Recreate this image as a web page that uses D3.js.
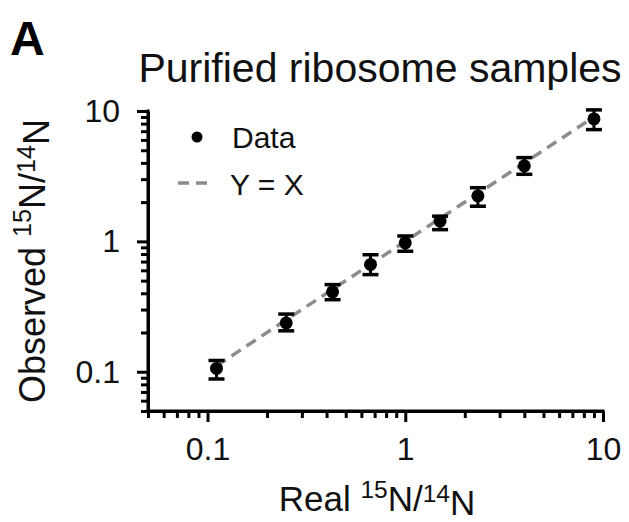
<!DOCTYPE html>
<html>
<head>
<meta charset="utf-8">
<script src="https://cdn.jsdelivr.net/npm/d3@7"></script>
<style>
  body { margin: 0; background: #fff; }
  svg { display: block; font-family: "Liberation Sans", Arial, Helvetica, sans-serif; }
</style>
</head>
<body>
<svg id="chart" width="629" height="522"></svg>
<script>
// data
var realRatio = [0.111, 0.25, 0.429, 0.667, 1, 1.5, 2.33, 4, 9];
var observed  = [0.106, 0.237, 0.41, 0.665, 0.975, 1.43, 2.23, 3.8, 8.7];
var errLow    = [0.088, 0.206, 0.357, 0.556, 0.84, 1.23, 1.86, 3.27, 7.2];
var errHigh   = [0.122, 0.277, 0.466, 0.79, 1.1, 1.56, 2.58, 4.39, 10.2];
var tickValues = [0.1, 1, 10];
var tickLabels = ["0.1", "1", "10"];

var width = 629, height = 522,
    margin = { top: 111, right: 26, bottom: 111, left: 148 };

var svg = d3.select("#chart");

var x = d3.scaleLog().domain([0.05, 10]).range([margin.left, width - margin.right]);
var y = d3.scaleLog().domain([0.05, 10]).range([height - margin.bottom, margin.top]);

// minor ticks 0.05..0.09, 0.2..0.9, 2..9
var minor = [];
[0.01, 0.1, 1].forEach(function (d) {
    for (var i = 2; i <= 9; i++) {
        var v = +(d * i).toFixed(3);
        if (v >= 0.05 && v < 10 && tickValues.indexOf(v) < 0) minor.push(v);
    }
});

function drawAxis(g) {
    g.selectAll(".domain").attr("stroke-width", 3).attr("stroke", "#000");
    g.selectAll(".tick line").attr("stroke-width", 3).attr("stroke", "#000");
}

// minor ticks
svg.append("g")
    .attr("transform", "translate(0," + y.range()[0] + ")")
    .call(d3.axisBottom(x).tickValues(minor).tickSize(7).tickFormat("").tickSizeOuter(0))
    .call(drawAxis);
svg.append("g")
    .attr("transform", "translate(" + x.range()[0] + ",0)")
    .call(d3.axisLeft(y).tickValues(minor).tickSize(7).tickFormat("").tickSizeOuter(0))
    .call(drawAxis);

// major ticks
var xAxis = svg.append("g")
    .attr("transform", "translate(0," + y.range()[0] + ")")
    .call(d3.axisBottom(x).tickValues(tickValues).tickSize(11).tickSizeOuter(0)
        .tickFormat(function (d, i) { return tickLabels[i]; }))
    .call(drawAxis);
xAxis.selectAll(".tick text").attr("font-size", 32).attr("fill", "#111")
    .attr("font-family", "inherit").attr("dy", null).attr("y", 49);
xAxis.select(".domain").attr("d", "M" + (x.range()[0] - 1.5) + ",0H" + (x.range()[1] + 1.5));

var yAxis = svg.append("g")
    .attr("transform", "translate(" + x.range()[0] + ",0)")
    .call(d3.axisLeft(y).tickValues(tickValues).tickSize(11).tickSizeOuter(0)
        .tickFormat(function (d, i) { return tickLabels[i]; }))
    .call(drawAxis);
yAxis.selectAll(".tick text").attr("font-size", 32).attr("fill", "#111")
    .attr("font-family", "inherit").attr("x", -28);
yAxis.select(".domain").attr("d", "M0," + (y.range()[0] + 1.5) + "V" + (y.range()[1] - 1.5));

// y = x reference line
var line = d3.line().x(function (d) { return x(d); }).y(function (d) { return y(d); });
svg.append("path")
    .datum([realRatio[0], realRatio[realRatio.length - 1]])
    .attr("d", line)
    .attr("fill", "none")
    .attr("stroke", "#8c8c8c")
    .attr("stroke-width", 3.5)
    .attr("stroke-dasharray", "11,7");

// error bars + points
var pts = svg.append("g").selectAll("g")
    .data(realRatio.map(function (d, i) {
        return { x: d, y: observed[i], lo: errLow[i], hi: errHigh[i] };
    }))
    .enter().append("g");

pts.append("line")
    .attr("x1", function (d) { return x(d.x); }).attr("x2", function (d) { return x(d.x); })
    .attr("y1", function (d) { return y(d.lo); }).attr("y2", function (d) { return y(d.hi); })
    .attr("stroke", "#000").attr("stroke-width", 3);
["lo", "hi"].forEach(function (k) {
    pts.append("line")
        .attr("x1", function (d) { return x(d.x) - 8; }).attr("x2", function (d) { return x(d.x) + 8; })
        .attr("y1", function (d) { return y(d[k]); }).attr("y2", function (d) { return y(d[k]); })
        .attr("stroke", "#000").attr("stroke-width", 3.5);
});
pts.append("circle")
    .attr("cx", function (d) { return x(d.x); })
    .attr("cy", function (d) { return y(d.y); })
    .attr("r", 6.5)
    .attr("fill", "#000");

// legend
var legend = svg.append("g");
legend.append("circle").attr("cx", 197).attr("cy", 137).attr("r", 5.5).attr("fill", "#000");
legend.append("text").attr("x", 232).attr("y", 148).attr("font-size", 30).attr("fill", "#111").text("Data");
legend.append("line").attr("x1", 178).attr("x2", 214).attr("y1", 183).attr("y2", 183)
    .attr("stroke", "#8c8c8c").attr("stroke-width", 3.5).attr("stroke-dasharray", "11,7");
legend.append("text").attr("x", 230).attr("y", 195).attr("font-size", 30).attr("fill", "#111").text("Y = X");

// title and panel letter
svg.append("text").attr("x", 10).attr("y", 55).attr("font-size", 48).attr("font-weight", "bold")
    .attr("fill", "#000").text("A");
svg.append("text").attr("x", 380).attr("y", 82).attr("text-anchor", "middle")
    .attr("font-size", 41).attr("fill", "#111").text("Purified ribosome samples");

// axis titles with superscripts
function ratioLabel(t, prefix) {
    t.append("tspan").text(prefix + " ");
    t.append("tspan").attr("font-size", "0.7em").attr("dy", "-0.55em").text("15");
    t.append("tspan").attr("dy", "0.385em").text("N/");
    t.append("tspan").attr("font-size", "0.7em").attr("dy", "-0.385em").text("14");
    t.append("tspan").attr("dy", "0.385em").text("N");
}
svg.append("text").attr("x", 377).attr("y", 511).attr("text-anchor", "middle")
    .attr("font-size", 35).attr("fill", "#111").call(ratioLabel, "Real");
svg.append("text").attr("transform", "translate(45,261) rotate(-90)").attr("text-anchor", "middle")
    .attr("font-size", 36).attr("fill", "#111").call(ratioLabel, "Observed");
</script>
</body>
</html>
